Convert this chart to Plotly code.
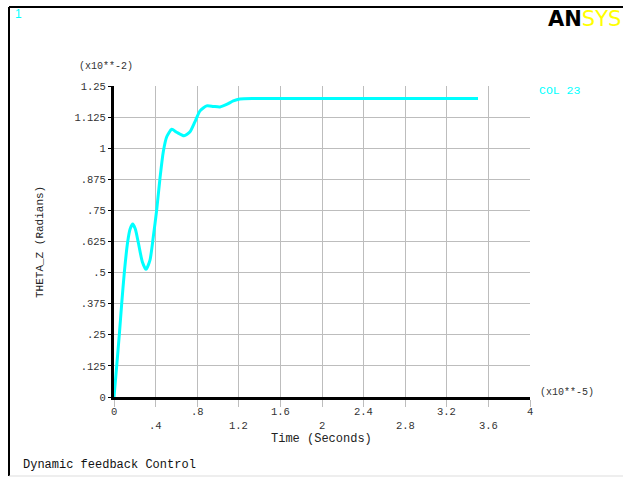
import plotly.graph_objects as go

# Data (time in x10**-5 s, theta in x10**-2 rad)
time = [0, 0.026, 0.051, 0.074, 0.099, 0.132, 0.155, 0.18, 0.205, 0.234, 0.272, 0.308,
        0.346, 0.378, 0.41, 0.442, 0.474, 0.507, 0.555, 0.603, 0.673, 0.731, 0.779,
        0.827, 0.891, 0.955, 1.019, 1.083, 1.147, 1.21, 1.34, 1.5, 2.0, 2.5, 3.0, 3.5]
theta = [0, 0.125, 0.25, 0.375, 0.5, 0.625, 0.675, 0.695, 0.675, 0.62, 0.544, 0.513,
         0.55, 0.644, 0.75, 0.879, 0.986, 1.046, 1.076, 1.064, 1.050, 1.066, 1.107,
         1.150, 1.17, 1.168, 1.166, 1.176, 1.19, 1.198, 1.2, 1.2, 1.2, 1.2, 1.2, 1.2]

y_tickvals = [0, 0.125, 0.25, 0.375, 0.5, 0.625, 0.75, 0.875, 1, 1.125, 1.25]
y_ticktext = ["0", ".125", ".25", ".375", ".5", ".625", ".75", ".875", "1", "1.125", "1.25"]
x_tickvals = [0, 0.4, 0.8, 1.2, 1.6, 2.0, 2.4, 2.8, 3.2, 3.6, 4.0]
x_ticktext = ["0", ".4", ".8", "1.2", "1.6", "2", "2.4", "2.8", "3.2", "3.6", "4"]

MONO = "Liberation Mono"
W, H = 623, 477
L, R, T, B = 114, 93, 86, 80
PW, PH = W - L - R, H - T - B


def px(x):
    return (x - L) / PW


def py(y):
    return (H - B - y) / PH


fig = go.Figure()
fig.add_trace(go.Scatter(
    x=time, y=theta, mode="lines",
    line=dict(color="#00ffff", width=3, shape="spline", smoothing=0.6),
    showlegend=False, hoverinfo="skip"))

fig.update_xaxes(
    range=[0, 4], tickvals=x_tickvals, showticklabels=False,
    showgrid=True, gridcolor="#bdbdbd", gridwidth=1,
    ticks="outside", ticklen=7, tickcolor="#bdbdbd", tickwidth=1,
    showline=True, linecolor="black", linewidth=3, zeroline=False)
fig.update_yaxes(
    range=[0, 1.25], tickvals=y_tickvals, ticktext=y_ticktext,
    tickfont=dict(family=MONO, size=10.5, color="#333"),
    showgrid=True, gridcolor="#bdbdbd", gridwidth=1,
    ticks="outside", ticklen=3, tickcolor="black", tickwidth=1,
    showline=True, linecolor="black", linewidth=3, zeroline=False)

anns = []
for i, (v, t) in enumerate(zip(x_tickvals, x_ticktext)):
    anns.append(dict(x=v, xref="x", y=py(412) if i % 2 == 0 else py(426), yref="paper",
                     text=t, showarrow=False, xanchor="center", yanchor="middle",
                     font=dict(family=MONO, size=10.5, color="#333")))

anns += [
    dict(x=px(13), y=py(14), xref="paper", yref="paper", text="1", showarrow=False,
         xanchor="left", yanchor="middle", font=dict(family="Liberation Sans", size=12, color="#00ffff")),
    dict(x=px(546), y=py(19), xref="paper", yref="paper",
         text="<b>AN</b><span style='color:#ffff00'>SYS</span>", showarrow=False,
         xanchor="left", yanchor="middle", font=dict(family="DejaVu Sans", size=21, color="black")),
    dict(x=px(77), y=py(67), xref="paper", yref="paper", text="(x10**-2)", showarrow=False,
         xanchor="left", yanchor="middle", font=dict(family=MONO, size=10, color="#333")),
    dict(x=px(537), y=py(90), xref="paper", yref="paper", text="COL 23", showarrow=False,
         xanchor="left", yanchor="middle", font=dict(family=MONO, size=11.5, color="#00ffff")),
    dict(x=px(538), y=py(392), xref="paper", yref="paper", text="(x10**-5)", showarrow=False,
         xanchor="left", yanchor="middle", font=dict(family=MONO, size=10, color="#333")),
    dict(x=px(321), y=py(439), xref="paper", yref="paper", text="Time (Seconds)", showarrow=False,
         xanchor="center", yanchor="middle", font=dict(family=MONO, size=12, color="#222")),
    dict(x=px(21), y=py(465), xref="paper", yref="paper", text="Dynamic feedback Control", showarrow=False,
         xanchor="left", yanchor="middle", font=dict(family=MONO, size=12, color="#111")),
    dict(x=px(40), y=py(242), xref="paper", yref="paper", text="THETA_Z (Radians)", showarrow=False,
         textangle=-90, xanchor="center", yanchor="middle", font=dict(family=MONO, size=11, color="#222")),
]

shapes = [
    dict(type="line", xref="paper", yref="paper", x0=px(9), x1=px(640), y0=py(7), y1=py(7),
         line=dict(color="black", width=2)),
    dict(type="line", xref="paper", yref="paper", x0=px(9), x1=px(9), y0=py(7), y1=py(476),
         line=dict(color="black", width=2)),
    dict(type="line", xref="paper", yref="paper", x0=px(9), x1=px(640), y0=py(476), y1=py(476),
         line=dict(color="#dddddd", width=1)),
]

fig.update_layout(
    width=W, height=H, margin=dict(l=L, r=R, t=T, b=B),
    paper_bgcolor="white", plot_bgcolor="white",
    annotations=anns, shapes=shapes, showlegend=False)

fig.write_html("out.html", config={"displayModeBar": False},
               post_script="document.body.style.margin='0px';")
